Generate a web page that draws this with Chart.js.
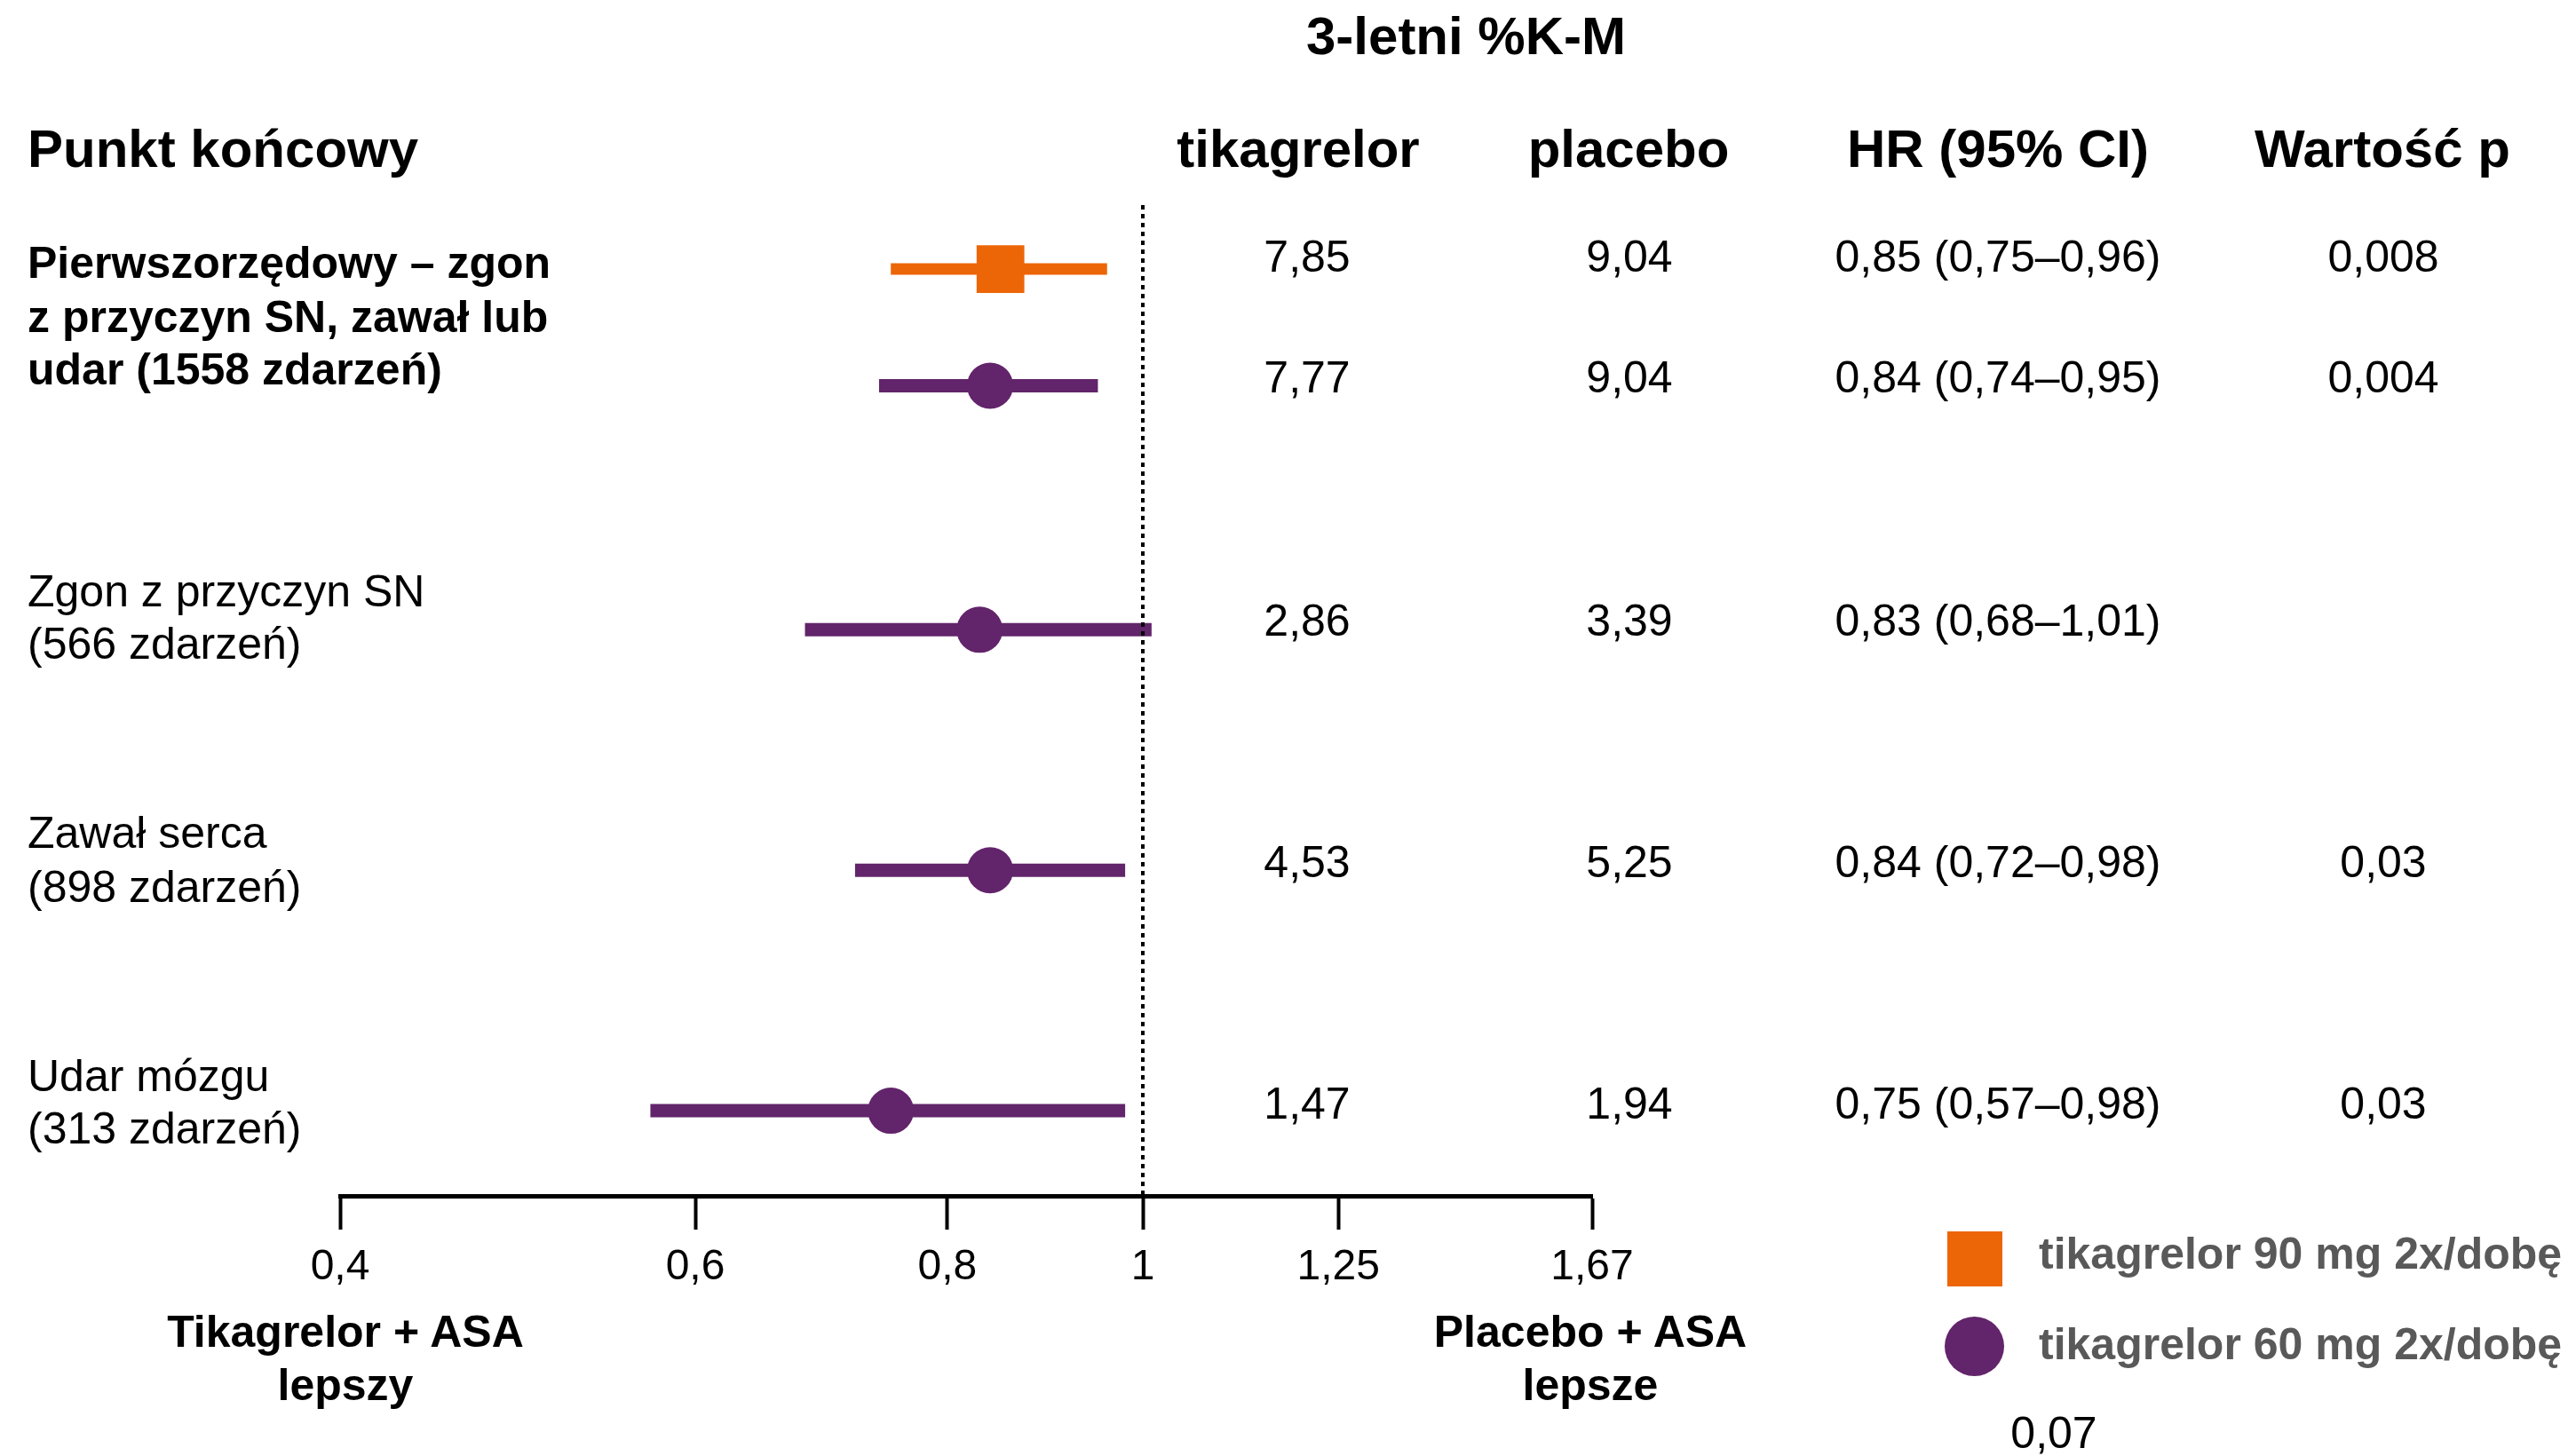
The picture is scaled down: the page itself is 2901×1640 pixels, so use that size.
<!DOCTYPE html>
<html lang="pl">
<head>
<meta charset="utf-8">
<title>3-letni %K-M</title>
<script src="https://cdn.jsdelivr.net/npm/chart.js@4.4.1/dist/chart.umd.min.js"></script>
<style>
  html, body { margin: 0; padding: 0; background: #fff; overflow: hidden; }
  #wrap { position: relative; width: 2901px; height: 1640px; font-family: "Liberation Sans", Arial, sans-serif; color: #000; }
  #wrap canvas { position: absolute; left: 0; top: 0; }
  .t { position: absolute; white-space: nowrap; line-height: 1; }
  .c { transform: translate(-50%, -50%); }
  .l { transform: translate(0, -50%); }
  .b { font-weight: bold; }
  .sw { position: absolute; }
</style>
</head>
<body>
<div id="wrap"><canvas id="forest" width="2901" height="1640"></canvas></div>
<script>
// forest plot: HR tikagrelor vs placebo, log scale

const rowLabels = [
  ['Pierwszorzędowy – zgon', 'z przyczyn SN, zawał lub', 'udar (1558 zdarzeń)'],
  ['Zgon z przyczyn SN', '(566 zdarzeń)'],
  ['Zawał serca', '(898 zdarzeń)'],
  ['Udar mózgu', '(313 zdarzeń)']
];
const rowDose = ['90', '60', '60', '60', '60'];
const rowSlot = [0, 0.485, 1.5, 2.5, 3.5];
const hr     = [0.85, 0.84, 0.83, 0.84, 0.75];
const ciLow  = [0.75, 0.74, 0.68, 0.72, 0.57];
const ciHigh = [0.96, 0.95, 1.01, 0.98, 0.98];
const kmTikagrelor = ['7,85', '7,77', '2,86', '4,53', '1,47'];
const kmPlacebo    = ['9,04', '9,04', '3,39', '5,25', '1,94'];
const pValues      = ['0,008', '0,004', '', '0,03', '0,03'];
const strayP       = '0,07';
const xTicks = [0.4, 0.6, 0.8, 1, 1.25, 1.67];
const legendLabels = ['tikagrelor 90 mg 2x/dobę', 'tikagrelor 60 mg 2x/dobę'];
const headers = ['Punkt końcowy', 'tikagrelor', 'placebo', 'HR (95% CI)', 'Wartość p'];
const title = '3-letni %K-M';
const sideLabels = [['Tikagrelor + ASA', 'lepszy'], ['Placebo + ASA', 'lepsze']];

const ORANGE = '#EC6608';
const PURPLE = '#62246A';
const FONT = '"Liberation Sans", Arial, sans-serif';
const colorOf = (d) => d === '90' ? ORANGE : PURPLE;
const fmt = (v) => String(v).replace('.', ',');

// layout (px)
const colX = [1472, 1835, 2250, 2684];
const headX = [31, 1462, 1834, 2250, 2683];
const headY = 168;
const valueY = [289, 425, 699, 971, 1243];
const labelY = [[296, 357, 416], [666, 725], [938, 999], [1212, 1271]];

const wrap = document.getElementById('wrap');
function put(text, x, y, cls, size, extra) {
  const el = document.createElement('div');
  el.className = 't ' + cls;
  el.textContent = text;
  el.style.left = x + 'px';
  el.style.top = y + 'px';
  el.style.fontSize = size + 'px';
  if (extra) Object.assign(el.style, extra);
  wrap.appendChild(el);
  return el;
}

// texts
put(title, 1651, 41, 'c b', 60);
headers.forEach((h, i) => put(h, headX[i], headY, i === 0 ? 'l b' : 'c b', 60));
rowLabels.forEach((lines, r) => {
  lines.forEach((s, k) => put(s, 31, labelY[r][k], 'l' + (r === 0 ? ' b' : ''), 50));
});
hr.forEach((v, i) => {
  put(kmTikagrelor[i], colX[0], valueY[i], 'c', 50);
  put(kmPlacebo[i], colX[1], valueY[i], 'c', 50);
  put(`${fmt(v)} (${fmt(ciLow[i])}–${fmt(ciHigh[i])})`, colX[2], valueY[i], 'c', 50);
  if (pValues[i]) put(pValues[i], colX[3], valueY[i], 'c', 50);
});
put(strayP, 2313, 1614, 'c', 50);
put(sideLabels[0][0], 389, 1500, 'c b', 50);
put(sideLabels[0][1], 389, 1560, 'c b', 50);
put(sideLabels[1][0], 1791, 1500, 'c b', 50);
put(sideLabels[1][1], 1791, 1560, 'c b', 50);

// legend
const sq = document.createElement('div');
sq.className = 'sw';
Object.assign(sq.style, { left: '2193px', top: '1387px', width: '62px', height: '62px', background: ORANGE });
wrap.appendChild(sq);
const dot = document.createElement('div');
dot.className = 'sw';
Object.assign(dot.style, { left: '2190px', top: '1483px', width: '67px', height: '67px', background: PURPLE, borderRadius: '50%' });
wrap.appendChild(dot);
put(legendLabels[0], 2296, 1412, 'l b', 50, { color: '#595959' });
put(legendLabels[1], 2296, 1514, 'l b', 50, { color: '#595959' });

// chart
const ciSets = hr.map((_, i) => ({
  data: [{ x: ciLow[i], y: rowSlot[i] }, { x: ciHigh[i], y: rowSlot[i] }],
  showLine: true,
  borderColor: colorOf(rowDose[i]),
  borderWidth: rowDose[i] === '90' ? 13 : 15,
  borderCapStyle: 'butt',
  pointRadius: 0,
  order: 2
}));

const pointSet = (dose, style, radius) => ({
  data: hr.map((v, i) => ({ x: v, y: rowSlot[i] })).filter((_, i) => rowDose[i] === dose),
  pointStyle: style,
  pointRadius: radius,
  pointBorderWidth: 0,
  backgroundColor: colorOf(dose),
  borderColor: colorOf(dose),
  showLine: false,
  order: 1
});

const refLine = {
  id: 'refLine',
  afterDatasetsDraw(chart) {
    const { ctx, chartArea, scales: { x } } = chart;
    const px = Math.round(x.getPixelForValue(1));
    ctx.save();
    ctx.strokeStyle = '#000';
    ctx.lineWidth = 4;
    ctx.setLineDash([5, 5]);
    ctx.beginPath();
    ctx.moveTo(px, chartArea.top);
    ctx.lineTo(px, chartArea.bottom);
    ctx.stroke();
    ctx.restore();
  }
};

new Chart(document.getElementById('forest').getContext('2d'), {
  type: 'scatter',
  data: { datasets: [pointSet('90', 'rect', 38), pointSet('60', 'circle', 26), ...ciSets] },
  options: {
    responsive: false,
    devicePixelRatio: 1,
    animation: false,
    layout: { padding: { left: 383, right: 1108, top: 231, bottom: 0 } },
    plugins: { legend: { display: false }, tooltip: { enabled: false } },
    scales: {
      x: {
        type: 'logarithmic',
        min: 0.4,
        max: 1.67,
        afterBuildTicks: (s) => { s.ticks = xTicks.map((v) => ({ value: v })); },
        afterFit: (s) => { s.height = 293; },
        ticks: {
          callback: (v) => fmt(v),
          font: { size: 48, family: FONT },
          color: '#000',
          padding: 14,
          autoSkip: false,
          maxRotation: 0
        },
        grid: { drawOnChartArea: false, drawTicks: true, tickLength: 38, tickWidth: 4, tickColor: '#000' },
        border: { display: true, color: '#000', width: 5 }
      },
      y: { type: 'linear', display: false, min: -0.266, max: 3.854, reverse: true }
    }
  },
  plugins: [refLine]
});
</script>
</body>
</html>
